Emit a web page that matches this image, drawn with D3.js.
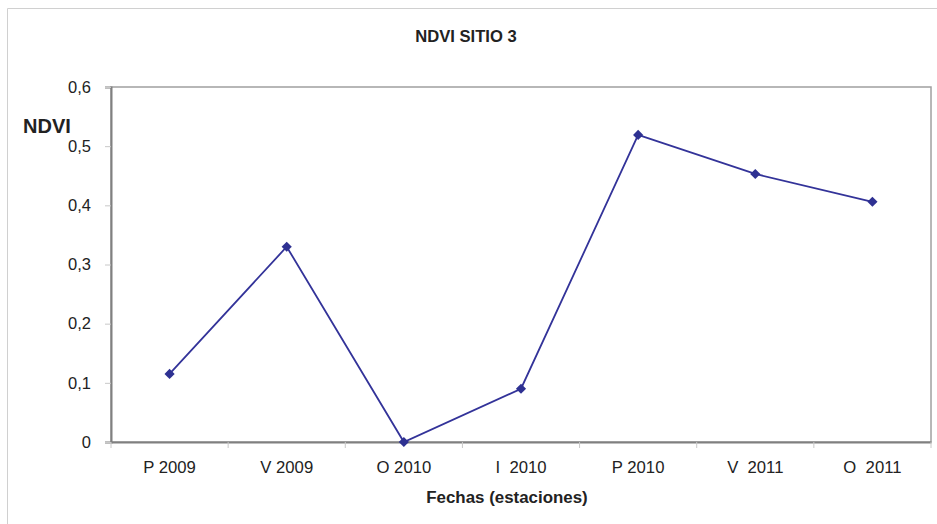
<!DOCTYPE html>
<html>
<head>
<meta charset="utf-8">
<script src="https://cdn.jsdelivr.net/npm/d3@7"></script>
<style>
  body { margin: 0; background: #fff; }
  text { font-family: "Liberation Sans", Arial, sans-serif; fill: #222; white-space: pre; }
</style>
</head>
<body>
<div id="chart"></div>
<script>
// data
var categories = ["P 2009", "V 2009", "O 2010", "I  2010", "P 2010", "V  2011", "O  2011"];
var ndvi = [0.115, 0.33, 0, 0.09, 0.519, 0.453, 0.406];
var yTicks = [0, 0.1, 0.2, 0.3, 0.4, 0.5, 0.6];

var svgWidth = 937;
var svgHeight = 524;

var margin = { top: 87, right: 6, bottom: 82, left: 111 };
var width = svgWidth - margin.left - margin.right;
var height = svgHeight - margin.top - margin.bottom;

var svg = d3.select("#chart")
  .append("svg")
  .attr("width", svgWidth)
  .attr("height", svgHeight);

// outer chart frame (only top/left visible in the crop)
svg.append("path")
  .attr("d", "M7.5,524V8.5H937")
  .attr("fill", "none")
  .attr("stroke", "#d0d0d0");

var chartGroup = svg.append("g")
  .attr("transform", `translate(${margin.left}, ${margin.top})`);

var xScale = d3.scaleBand()
  .domain(categories)
  .range([0, width]);

var yScale = d3.scaleLinear()
  .domain([0, 0.6])
  .range([height, 0]);

// plot frame
chartGroup.append("rect")
  .attr("x", 0)
  .attr("y", 0)
  .attr("width", width)
  .attr("height", height)
  .attr("fill", "none")
  .attr("stroke", "#a0a0a0")
  .attr("stroke-width", 1.5);

// y axis
var leftAxis = d3.axisLeft(yScale)
  .tickValues(yTicks)
  .tickSize(6)
  .tickPadding(14)
  .tickFormat(d => d3.format(".1f")(d).replace(".", ",").replace("0,0", "0"));

var yAxis = chartGroup.append("g").call(leftAxis);
yAxis.select(".domain").attr("stroke", "#808080").attr("stroke-width", 2);
yAxis.selectAll(".tick line").attr("stroke", "#c8c8c8");
yAxis.selectAll(".tick text")
  .attr("font-size", "16.5px")
  .attr("fill", "#222");

// x axis: ticks at band boundaries
var bottomAxis = d3.axisBottom(xScale).tickSize(0).tickPadding(19);
var xAxis = chartGroup.append("g")
  .attr("transform", `translate(0, ${height})`)
  .call(bottomAxis);
xAxis.select(".domain").attr("stroke", "#808080").attr("stroke-width", 2);
xAxis.selectAll(".tick text")
  .attr("font-size", "16.7px")
  .attr("fill", "#222")
  .attr("dy", "0.71em");

var boundaries = categories.map(c => xScale(c)).concat([width]);
chartGroup.append("g")
  .selectAll("line")
  .data(boundaries)
  .enter()
  .append("line")
  .attr("x1", d => d)
  .attr("x2", d => d)
  .attr("y1", height)
  .attr("y2", height + 6)
  .attr("stroke", "#c8c8c8");

// line
var line = d3.line()
  .x((d, i) => xScale(categories[i]) + xScale.bandwidth() / 2)
  .y(d => yScale(d));

chartGroup.append("path")
  .datum(ndvi)
  .attr("d", line)
  .attr("fill", "none")
  .attr("stroke", "#333399")
  .attr("stroke-width", 1.8);

// diamond markers
chartGroup.selectAll(".marker")
  .data(ndvi)
  .enter()
  .append("path")
  .attr("class", "marker")
  .attr("d", d3.symbol().type(d3.symbolDiamond2).size(66))
  .attr("transform", (d, i) => `translate(${xScale(categories[i]) + xScale.bandwidth() / 2}, ${yScale(d)})`)
  .attr("fill", "#2e3192");

// titles
svg.append("text")
  .attr("x", 466)
  .attr("y", 42)
  .attr("text-anchor", "middle")
  .attr("font-size", "16.6px")
  .attr("font-weight", "bold")
  .text("NDVI SITIO 3");

svg.append("text")
  .attr("x", 507)
  .attr("y", 503)
  .attr("text-anchor", "middle")
  .attr("font-size", "16.9px")
  .attr("font-weight", "bold")
  .text("Fechas (estaciones)");

svg.append("text")
  .attr("x", 23)
  .attr("y", 133)
  .attr("font-size", "20px")
  .attr("font-weight", "bold")
  .text("NDVI");
</script>
</body>
</html>
